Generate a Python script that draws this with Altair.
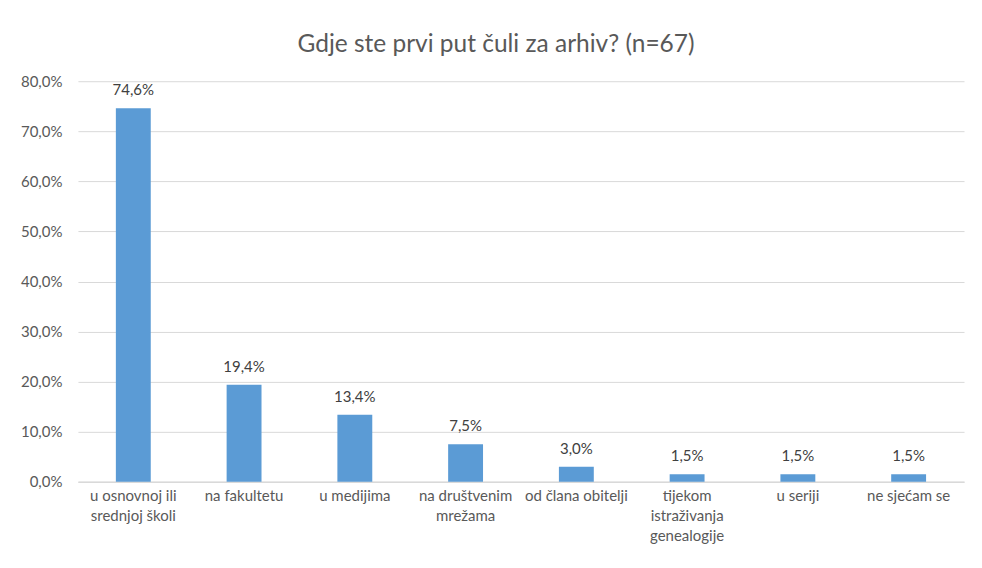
import altair as alt
import pandas as pd

categories = [
    "u osnovnoj ili\nsrednjoj školi",
    "na fakultetu",
    "u medijima",
    "na društvenim\nmrežama",
    "od člana obitelji",
    "tijekom\nistraživanja\ngenealogije",
    "u seriji",
    "ne sjećam se",
]
shares = [0.746, 0.194, 0.134, 0.075, 0.030, 0.015, 0.015, 0.015]

df = pd.DataFrame({"kategorija": categories, "udio": shares})

FONT = "Lato"
GREY = "#595959"

base = alt.Chart(df).encode(
    x=alt.X(
        "kategorija:N",
        sort=categories,
        title=None,
        scale=alt.Scale(paddingInner=0.685, paddingOuter=0.3425),
        axis=alt.Axis(
            labelAngle=0,
            labelExpr="split(datum.label, '\\n')",
            labelFontSize=15,
            labelLineHeight=20,
            labelColor=GREY,
            labelFont=FONT,
            labelPadding=7,
            ticks=False,
            grid=False,
            domain=True,
            domainColor="#D9D9D9",
            domainWidth=1.5,
            labelLimit=200,
        ),
    ),
    y=alt.Y(
        "udio:Q",
        title=None,
        scale=alt.Scale(domain=[0, 0.8], nice=False),
        axis=alt.Axis(
            values=[0, 0.1, 0.2, 0.3, 0.4, 0.5, 0.6, 0.7, 0.8],
            labelExpr="replace(format(datum.value, '.1%'), '.', ',')",
            labelFontSize=15,
            labelColor=GREY,
            labelFont=FONT,
            labelPadding=16,
            ticks=False,
            domain=False,
            grid=True,
            gridColor="#D9D9D9",
            gridWidth=1,
        ),
    ),
)

bars = base.mark_bar(color="#5B9BD5")
labels = base.mark_text(
    dy=-10, baseline="bottom", fontSize=15, font=FONT, color="#404040"
).encode(text=alt.Text("label:N")).transform_calculate(
    label="replace(format(datum.udio, '.1%'), '.', ',')"
)

chart = (
    (bars + labels)
    .properties(
        width=887,
        height=401,
        background="white",
        title=alt.TitleParams(
            "Gdje ste prvi put čuli za arhiv? (n=67)",
            fontSize=24.5,
            font=FONT,
            fontWeight="normal",
            color=GREY,
            offset=17,
            dx=-25,
        ),
        autosize=alt.AutoSizeParams(type="none"),
        padding={"left": 70, "top": 73, "right": 10, "bottom": 80},
    )
    .configure_view(strokeWidth=0, stroke="transparent")
)

chart.save("out.html", embed_options={"renderer": "svg", "actions": False})
